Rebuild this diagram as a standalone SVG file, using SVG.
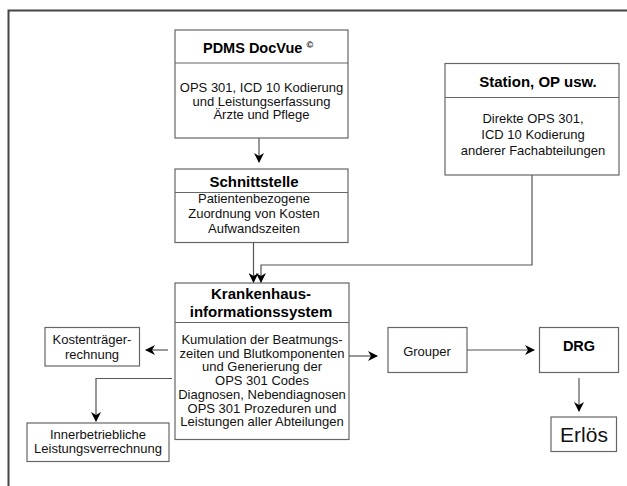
<svg xmlns="http://www.w3.org/2000/svg" width="627" height="486" viewBox="0 0 627 486">
<defs>
<marker id="arr" markerWidth="10" markerHeight="10" refX="9" refY="5" orient="auto" markerUnits="userSpaceOnUse">
<path d="M0,0 L10,5 L0,10 L3,5 z" fill="#000"/>
</marker>
<style>
.box{fill:#fff;stroke:#666;stroke-width:1.2}
.div{stroke:#666;stroke-width:1.2}
.t{font-family:"Liberation Sans",Arial,sans-serif;font-size:13px;fill:#111;text-anchor:middle}
.h{font-family:"Liberation Sans",Arial,sans-serif;font-size:15px;font-weight:bold;fill:#000;text-anchor:middle}
.c{fill:none;stroke:#555;stroke-width:1.2}
</style>
</defs>
<rect width="627" height="486" fill="#fff"/>
<path d="M8.5,486 L8.5,10.5 L627,10.5" fill="none" stroke="#444" stroke-width="2"/>

<g id="pdms">
<rect class="box" x="175" y="30" width="173" height="108"/>
<line class="div" x1="175" y1="63" x2="348" y2="63"/>
<text class="h" x="258" y="53" style="font-size:14.5px">PDMS DocVue <tspan font-size="9" dy="-5">©</tspan></text>
<text class="t" x="261.5" y="92">OPS 301, ICD 10 Kodierung</text>
<text class="t" x="261.5" y="105.5">und Leistungserfassung</text>
<text class="t" x="261.5" y="119">Ärzte und Pflege</text>
</g>

<g id="station">
<rect class="box" x="445" y="63.5" width="174" height="111.5"/>
<line class="div" x1="445" y1="97.5" x2="619" y2="97.5"/>
<text class="h" x="538" y="87">Station, OP usw.</text>
<text class="t" x="533" y="123">Direkte OPS 301,</text>
<text class="t" x="533" y="139">ICD 10 Kodierung</text>
<text class="t" x="533" y="155">anderer Fachabteilungen</text>
</g>

<g id="schnittstelle">
<rect class="box" x="175" y="169" width="173" height="73.5"/>
<line class="div" x1="175" y1="192.5" x2="348" y2="192.5"/>
<text class="h" x="254" y="187">Schnittstelle</text>
<text class="t" x="254" y="203">Patientenbezogene</text>
<text class="t" x="254" y="217.5">Zuordnung von Kosten</text>
<text class="t" x="254" y="233">Aufwandszeiten</text>
</g>

<g id="kis">
<rect class="box" x="175" y="283" width="174" height="156.5"/>
<line class="div" x1="175" y1="322.5" x2="349" y2="322.5"/>
<text class="h" x="261" y="299">Krankenhaus-</text>
<text class="h" x="261" y="317">informationssystem</text>
<text class="t" x="262" y="344">Kumulation der Beatmungs-</text>
<text class="t" x="262" y="357.5">zeiten und Blutkomponenten</text>
<text class="t" x="262" y="371">und Generierung der</text>
<text class="t" x="262" y="385">OPS 301 Codes</text>
<text class="t" x="262" y="398.5">Diagnosen, Nebendiagnosen</text>
<text class="t" x="262" y="412.5">OPS 301 Prozeduren und</text>
<text class="t" x="262" y="426">Leistungen aller Abteilungen</text>
</g>

<g id="kostentraeger">
<rect class="box" x="45" y="327.5" width="94.5" height="38.5"/>
<text class="t" x="92" y="343.5">Kostenträger-</text>
<text class="t" x="92" y="358.5">rechnung</text>
</g>

<g id="innerbetrieblich">
<rect class="box" x="27" y="423" width="142" height="38.5"/>
<text class="t" x="98" y="438.5">Innerbetriebliche</text>
<text class="t" x="98" y="453">Leistungsverrechnung</text>
</g>

<g id="grouper">
<rect class="box" x="388" y="327.5" width="79" height="45"/>
<text class="t" x="427" y="356">Grouper</text>
</g>

<g id="drg">
<rect class="box" x="539.5" y="327.5" width="79" height="45"/>
<text class="h" x="579" y="351" style="font-size:14.5px">DRG</text>
</g>

<g id="erloes">
<rect class="box" x="551" y="417" width="65.5" height="34.5"/>
<text class="t" x="584" y="442" style="font-size:21px">Erlös</text>
</g>

<g id="connectors">
<line class="c" x1="259" y1="138" x2="259" y2="162" marker-end="url(#arr)"/>
<line class="c" x1="253.5" y1="242.5" x2="253.5" y2="282" marker-end="url(#arr)"/>
<polyline class="c" points="532,175 532,265 261,265 261,282" marker-end="url(#arr)"/>
<line class="c" x1="349" y1="356" x2="377" y2="356" marker-end="url(#arr)"/>
<line class="c" x1="467" y1="350" x2="534" y2="350" marker-end="url(#arr)"/>
<line class="c" x1="579" y1="378" x2="579" y2="411" marker-end="url(#arr)"/>
<line class="c" x1="168" y1="350" x2="146" y2="350" marker-end="url(#arr)"/>
<polyline class="c" points="172,378.5 96,378.5 96,421" marker-end="url(#arr)"/>
</g>
</svg>
